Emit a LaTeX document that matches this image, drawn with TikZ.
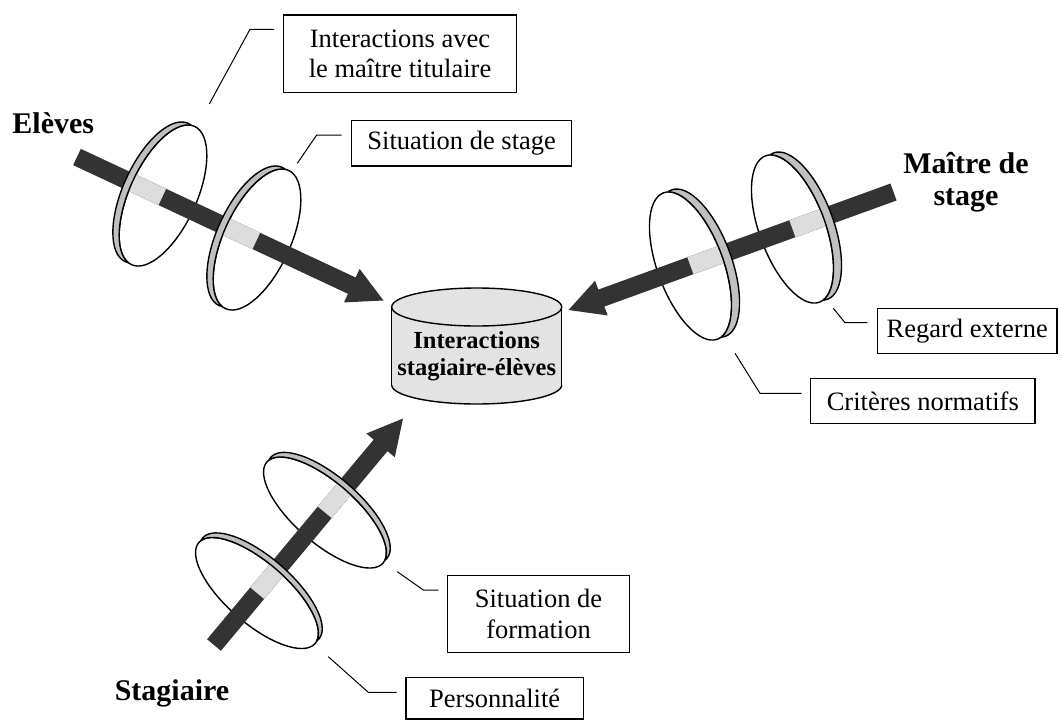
\documentclass[tikz,border=0pt]{standalone}
\usepackage{fontspec}
\setmainfont{Liberation Serif}
\usetikzlibrary{calc}
\definecolor{barc}{HTML}{333333}
\definecolor{lightc}{HTML}{DDDDDD}
\definecolor{rimc}{HTML}{C0C0C0}
\definecolor{cylc}{HTML}{E3E3E3}
\newcommand\boxfont{\fontsize{26.5}{30.5}\selectfont}
\newcommand\labfont{\fontsize{30}{32}\selectfont\bfseries}
\newcommand\cylfont{\fontsize{24.5}{27}\selectfont\bfseries}
% ellipse path: centre (#1,#2), semi-axes #3 (major), #4 (minor), major axis angle #5 (pixel frame)
\newcommand\Epath[5]{%
  \pgfpathellipse{\pgfpointxy{#1}{#2}}%
    {\pgfpointxy{(#3)*cos(#5)}{(#3)*sin(#5)}}%
    {\pgfpointxy{-(#4)*sin(#5)}{(#4)*cos(#5)}}}
\newcommand\discfront[5]{%
  \begin{pgfscope}\pgfsetlinewidth{1.4pt}\pgfsetstrokecolor{black}%
  \Epath{#1}{#2}{#3}{#4}{#5}\pgfusepath{stroke}\end{pgfscope}}
\newcommand\discrim[7]{%
  \begin{scope}
    \coordinate (rimm) at ($(#1,#2)+0.5*(#6,#7)$);
    \clip ($(rimm)+(#5:400)$) -- ($(rimm)+(#5:400)+40*(#6,#7)$)
       -- ($(rimm)+(#5:-400)+40*(#6,#7)$) -- ($(rimm)+(#5:-400)$) -- cycle;
    \pgfsetlinewidth{1.4pt}\pgfsetstrokecolor{black}\pgfsetfillcolor{rimc}\pgfseteorule
    \Epath{#1+(#6)}{#2+(#7)}{#3}{#4}{#5}\Epath{#1}{#2}{#3}{#4}{#5}%
    \pgfusepath{fill,stroke}
  \end{scope}}
% fat arrow from #1 to tip #2
\newcommand\fatarrow[2]{%
  \coordinate (fah) at ($(#2)!35pt!(#1)$);
  \fill[barc] ($(#1)!9pt!90:(#2)$) -- ($(fah)!9pt!90:(#2)$) -- ($(fah)!18.5pt!90:(#2)$)
    -- (#2) -- ($(fah)!18.5pt!-90:(#2)$) -- ($(fah)!9pt!-90:(#2)$) -- ($(#1)!9pt!-90:(#2)$) -- cycle;}
% light segment on bar #1->#2 from projection of centre #3 towards #5, length #4
\newcommand\lightseg[5]{%
  \coordinate (lsa) at ($(#1)!(#3)!(#2)$);
  \coordinate (lsb) at ($(lsa)!#4pt!(#5)$);
  \fill[lightc] ($(lsa)!9pt!90:(#2)$) -- ($(lsb)!9pt!90:(#2)$) -- ($(lsb)!9pt!-90:(#2)$) -- ($(lsa)!9pt!-90:(#2)$) -- cycle;}
\tikzset{
  lbox/.style={draw, line width=1.2pt, font=\boxfont, align=center, inner sep=0pt},
  leader/.style={line width=1pt},
  lab/.style={font=\labfont, align=center, inner sep=0pt},
  cylline/.style={line width=1.4pt}
}
\begin{document}
\begin{tikzpicture}[x=1pt,y=-1pt]
\useasboundingbox (0,0) rectangle (1062,720);
\fill[white] (0,0) rectangle (1062,720);

% ---- cylinder
\fill[cylc] (391.7,307) rectangle (561.7,385);
\fill[cylc] (476.7,385) ellipse [x radius=85, y radius=19];
\begin{scope}
  \clip (380,385) rectangle (575,415);
  \draw[cylline] (476.7,385) ellipse [x radius=85, y radius=19];
\end{scope}
\draw[cylline] (391.7,307) -- (391.7,385);
\draw[cylline] (561.7,307) -- (561.7,385);
\filldraw[cylline, fill=cylc] (476.7,307) ellipse [x radius=85, y radius=19];
\node[font=\cylfont, align=center, inner sep=0pt] (cyl) at (476.7,356) {Interactions\\stagiaire-élèves};

% ---- Eleves
\coordinate (ES) at (77,157);
\coordinate (ET) at (383.5,300.5);
\coordinate (E1) at (163,195.5);
\coordinate (E2) at (257,239.5);
\discfront{163}{195.5}{76}{33.5}{-65.5}
\discfront{257}{239.5}{76}{33.5}{-65.5}
\fatarrow{ES}{ET}
\lightseg{ES}{ET}{E1}{35}{ES}
\lightseg{ES}{ET}{E2}{35}{ES}
\discrim{163}{195.5}{76}{33.5}{-65.5}{-6.3}{-3.0}
\discrim{257}{239.5}{76}{33.5}{-65.5}{-6.3}{-3.0}

% ---- Maitre de stage
\coordinate (MS) at (893.5,192);
\coordinate (MT) at (568.5,310);
\coordinate (M1) at (690.5,266);
\coordinate (M2) at (792.5,229);
\discfront{690.5}{266}{78}{33}{69.8}
\discfront{792.5}{229}{78}{33}{69.8}
\fatarrow{MS}{MT}
\lightseg{MS}{MT}{M1}{34.5}{MS}
\lightseg{MS}{MT}{M2}{34.5}{MS}
\discrim{690.5}{266}{78}{33}{69.8}{8}{-2.9}
\discrim{792.5}{229}{78}{33}{69.8}{8}{-2.9}

% ---- Stagiaire
\coordinate (SS) at (214,645);
\coordinate (ST) at (403,418.5);
\coordinate (S1) at (257,593);
\coordinate (S2) at (325,512.5);
\discfront{257}{593}{77}{30.5}{41}
\discfront{325}{512.5}{77}{30.5}{41}
\fatarrow{SS}{ST}
\lightseg{SS}{ST}{S1}{32}{ST}
\lightseg{SS}{ST}{S2}{32}{ST}
\discrim{257}{593}{77}{30.5}{41}{3.8}{-4.6}
\discrim{325}{512.5}{77}{30.5}{41}{3.8}{-4.6}

% ---- boxes
\node[lbox, minimum width=233.4, minimum height=77.3] (b1) at (400,53.7) {Interactions avec\\le maître titulaire};
\node[lbox, minimum width=220, minimum height=45.3] (b2) at (461.7,143.3) {Situation de stage};
\node[lbox, minimum width=179.7, minimum height=45] (b3) at (967.2,330.8) {Regard externe};
\node[lbox, minimum width=224.5, minimum height=45] (b4) at (922.8,401) {Critères normatifs};
\node[lbox, minimum width=181.6, minimum height=76.6] (b5) at (538.5,614) {Situation de\\formation};
\node[lbox, minimum width=177.3, minimum height=41.3] (b6) at (494.7,698.4) {Personnalité};

% ---- leaders
\coordinate (l1a) at (209.3,104); \coordinate (l1b) at (250,29.3); \coordinate (l1c) at (274,29.3);
\coordinate (l2a) at (297.3,163.3); \coordinate (l2b) at (316.7,135); \coordinate (l2c) at (341.7,135);
\coordinate (l3a) at (833.3,308.3); \coordinate (l3b) at (845,322.7); \coordinate (l3c) at (867.3,322.7);
\coordinate (l4a) at (735,353.3); \coordinate (l4b) at (760,393.3); \coordinate (l4c) at (801.7,393.3);
\coordinate (l5a) at (397.3,571.7); \coordinate (l5b) at (423.3,590); \coordinate (l5c) at (438.3,590);
\coordinate (l6a) at (328.3,656.7); \coordinate (l6b) at (368.3,692.3); \coordinate (l6c) at (396.7,692.3);
\draw[leader] (l1a) -- (l1b) -- (l1c);
\draw[leader] (l2a) -- (l2b) -- (l2c);
\draw[leader] (l3a) -- (l3b) -- (l3c);
\draw[leader] (l4a) -- (l4b) -- (l4c);
\draw[leader] (l5a) -- (l5b) -- (l5c);
\draw[leader] (l6a) -- (l6b) -- (l6c);

% ---- labels
\node[lab, anchor=base] (eleves) at (53.3,133) {Elèves};
\node[lab] (maitre) at (966,182.3) {Maître de\\stage};
\node[lab, anchor=base] (stagiaire) at (172,700) {Stagiaire};
\end{tikzpicture}
\end{document}
